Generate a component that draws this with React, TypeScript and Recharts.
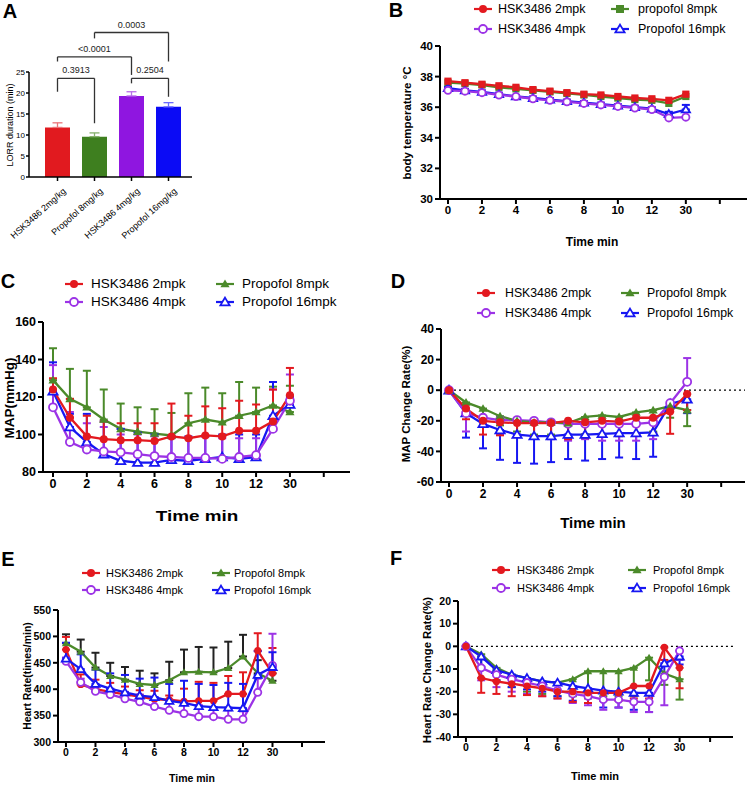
import React from 'react'
import { ComposedChart, Line, Bar, XAxis, YAxis, ErrorBar, ReferenceLine } from 'recharts'

const FONT = '"Liberation Sans", Arial, Helvetica, sans-serif'

const RED = '#e3191f'
const GREEN = '#4b8a2a'
const PURPLE = '#9c33e6'
const BLUE = '#1717f2'

// panel A: LORR duration
const groups = ['HSK3486 2mg/kg', 'Propofol 8mg/kg', 'HSK3486 4mg/kg', 'Propofol 16mg/kg']
const lorr = [11.8, 9.6, 19.3, 16.7]
const lorrTip = [12.9, 10.5, 20.3, 17.7]
const barColors = ['#e11a1f', '#3e7f1f', '#8f16e0', '#0b0bf5']
const barErrColors = ['#ea7479', '#86b06c', '#b86de9', '#6b6bff']

const bracketFrom = [0, 2, 0, 1]
const bracketTo = [1, 3, 2, 3]
const bracketY = [23.5, 23.5, 28.6, 34.4]
const legFromEnd = [20.3, 22.3, 27.5, 33.0]
const legToEnd = [12.8, 19.1, 24.3, 27.5]
const pValues = ['0.3913', '0.2504', '<0.0001', '0.0003']

// time slots: minutes 0..13 then 30 min
const slots = [0, 1, 2, 3, 4, 5, 6, 7, 8, 9, 10, 11, 12, 13, 14]
const tickSlots = [0, 2, 4, 6, 8, 10, 12, 14, 16]
const tickNames = ['0', '2', '4', '6', '8', '10', '12', '30', '']

// panel B: body temperature
const tempHsk2 = [37.7, 37.6, 37.5, 37.4, 37.3, 37.15, 37.05, 36.95, 36.85, 36.8, 36.7, 36.6, 36.55, 36.45, 36.85]
const tempPro8 = [37.6, 37.55, 37.45, 37.3, 37.2, 37.1, 37.0, 36.9, 36.8, 36.7, 36.6, 36.5, 36.45, 36.25, 36.7]
const tempHsk4 = [37.1, 37.05, 36.95, 36.8, 36.7, 36.55, 36.45, 36.35, 36.25, 36.15, 36.05, 35.95, 35.85, 35.3, 35.35]
const tempPro16 = [37.25, 37.1, 37.0, 36.85, 36.7, 36.6, 36.5, 36.4, 36.3, 36.2, 36.1, 36.0, 35.9, 35.55, 35.85]
const tempPro16Tip = [37.35, 37.2, 37.1, 36.95, 36.8, 36.7, 36.6, 36.5, 36.4, 36.3, 36.2, 36.1, 36.0, 35.7, 36.15]

// panel C: MAP
const mapHsk2 = [124, 109, 99, 97.5, 97, 97, 96.5, 99, 98, 99.5, 99, 102, 102, 107, 121]
const mapHsk2Tip = [130, 119, 110, 107, 106, 106, 106, 116.5, 110, 115, 114, 118, 116, 124, 135.5]
const mapPro8 = [129, 119, 114.5, 108, 103, 101.5, 100.5, 99.5, 106, 108, 106.5, 110, 112, 115.5, 112]
const mapPro8Tip = [146, 135, 134, 124, 116.5, 114.5, 113.5, 111.5, 122, 125, 122, 128, 125, 125.5, 126]
const mapHsk4 = [114.5, 96, 92, 91, 90.5, 89.5, 88.5, 88, 87.5, 87.5, 87, 88, 89, 103, 118]
const mapHsk4Tip = [137, 112, 106, 104, 100, 100, 99, 98, 98, 99, 98, 98, 98, 124, 132]
const mapPro16 = [123, 104, 96, 89.5, 86, 85, 85, 86.5, 86, 87, 88, 87, 88, 110, 116]
const mapPro16Tip = [138.5, 111, 111, 107, 103, 101, 100, 99, 99, 99, 100, 100, 100, 128, 120]

// panel D: MAP change rate
const mapcHsk2 = [0, -12, -20, -21, -21.5, -21.5, -21.5, -20, -21, -20, -20.5, -18, -18, -14, -2.5]
const mapcHsk2Tip = [0, -19, -29, -29.5, -30, -30, -31, -32, -31, -30, -30, -29, -28, -28.5, -13]
const mapcPro8 = [0, -8, -12, -17, -20, -21, -21, -21.5, -17.5, -16.5, -17.5, -14.5, -13, -10.5, -13]
const mapcPro8Tip = [0, -14, -18, -23, -27, -29, -29, -31, -29, -29, -30, -29, -27, -18, -23.5]
const mapcHsk4 = [0, -15, -18, -19.5, -19.5, -20, -21, -22, -22, -22, -22, -22, -21, -8.5, 5.5]
const mapcHsk4Tip = [0, -27, -22, -29, -30, -31, -32, -33, -32, -33, -33, -33, -32, -12, 21]
const mapcPro16 = [0, -15, -22, -26, -29, -30, -30, -29, -29, -28.5, -28, -28, -27.5, -9, -6]
const mapcPro16Tip = [0, -31, -38, -45.5, -47.5, -48, -47, -45, -46, -45, -44, -45, -43.5, -12, -15]

// panel E: heart rate
const hrHsk2 = [475, 409, 400, 395, 390, 386, 381, 380, 377, 378, 378, 391, 391, 473, 430]
const hrHsk2Tip = [499, 428, 418, 412, 405, 398, 397, 388, 401, 414, 412, 425, 432, 506, 478]
const hrPro8 = [487, 471, 441, 425, 418, 410, 408, 417, 432, 433, 432, 440, 462, 430, 416]
const hrPro8Tip = [504, 494, 469, 450, 442, 435, 430, 452, 475, 480, 479, 490, 503, 455, 430]
const hrHsk4 = [453, 413, 396, 390, 382, 376, 367, 360, 354, 348, 348, 343, 343, 394, 445]
const hrHsk4Tip = [460, 420, 405, 400, 395, 390, 385, 380, 375, 370, 365, 360, 358, 420, 505]
const hrPro16 = [458, 438, 410, 401, 394, 388, 385, 378, 374, 368, 366, 365, 364, 427, 442]
const hrPro16Tip = [488, 466, 437, 430, 427, 420, 422, 410, 416, 410, 408, 412, 410, 472, 470]

// panel F: heart rate change rate
const hrcHsk2 = [0, -14, -15.5, -16.5, -17.5, -18.5, -20, -20, -20.5, -20.5, -20.5, -17.5, -17.5, -0.5, -9.5]
const hrcHsk2Tip = [0, -20.5, -21, -22, -21.5, -22, -23, -24.5, -25, -24, -24, -23, -23, -6, -18.5]
const hrcPro8 = [0, -3.5, -9.5, -12.5, -14, -15.5, -16, -14.5, -11, -11, -11, -9.5, -5, -12, -14.5]
const hrcPro8Tip = [0, -9, -15, -18, -20, -21, -22, -22, -23, -22, -22, -22, -15, -17, -23.5]
const hrcHsk4 = [0, -9.5, -12.5, -14.5, -16, -17.5, -19.5, -21, -22, -23.5, -23.5, -24.5, -24.5, -13.5, -2]
const hrcHsk4Tip = [0, -15, -18, -20, -21, -22, -23, -25, -26, -28, -27, -29, -29, -26, -6]
const hrcPro16 = [0, -4.5, -10.5, -12.5, -14, -15.5, -16, -17.5, -18.5, -19.5, -20, -20.5, -20.5, -7.5, -4.5]
const hrcPro16Tip = [0, -9, -15, -18, -19, -20, -22, -24, -25, -27, -27, -28, -29, -13, -8]

type Shape = 'circle' | 'ocircle' | 'tri' | 'otri' | 'square'

function errOf(m: number, tip: number) {
  return tip >= m ? [0, tip - m] : [m - tip, 0]
}

type Series = { key: string; mean: number[]; tip?: number[]; color: string; shape: Shape; errColor?: string }

function buildRows(series: Series[]) {
  return slots.map((x, i) => {
    const row: any = { x }
    series.forEach((s) => {
      row[s.key] = s.mean[i]
      if (s.tip) row[s.key + 'Err'] = errOf(s.mean[i], s.tip[i])
    })
    return row
  })
}

function Marker({ shape, cx, cy, color, r }: { shape: Shape; cx: number; cy: number; color: string; r: number }) {
  if (cx == null || cy == null || isNaN(cx) || isNaN(cy)) return null
  if (shape === 'circle') return <circle cx={cx} cy={cy} r={r} fill={color} />
  if (shape === 'ocircle') return <circle cx={cx} cy={cy} r={r} fill="#fff" stroke={color} strokeWidth={1.8} />
  if (shape === 'square') return <rect x={cx - r} y={cy - r} width={2 * r} height={2 * r} fill={color} />
  const h = r * 1.1
  const d = `M${cx},${cy - h} L${cx + r * 1.15},${cy + h * 0.75} L${cx - r * 1.15},${cy + h * 0.75} Z`
  if (shape === 'tri') return <path d={d} fill={color} />
  return <path d={d} fill="#fff" stroke={color} strokeWidth={1.8} strokeLinejoin="miter" />
}

function Txt({ x, y, size, bold, rot, sx, children }: any) {
  return (
    <div
      style={{
        position: 'absolute',
        left: x,
        top: y,
        transform: `translate(-50%, -50%) rotate(${rot || 0}deg) scaleX(${sx || 1})`,
        fontFamily: FONT,
        fontSize: size,
        fontWeight: bold ? 700 : 400,
        whiteSpace: 'nowrap',
        color: '#000',
        lineHeight: 1,
      }}
    >
      {children}
    </div>
  )
}

type LegendItem = { text: string; color: string; shape: Shape }

function Legend4({ items, rows, iconX, textX, size }: { items: LegendItem[]; rows: number[]; iconX: number[]; textX: number[]; size: number }) {
  return (
    <>
      {items.map((it, i) => {
        const col = i < 2 ? 0 : 1
        const row = i % 2
        return (
          <div key={it.text}>
            <svg style={{ position: 'absolute', left: iconX[col] - 10, top: rows[row] - 6 }} width={20} height={12}>
              <line x1={1} y1={6} x2={19} y2={6} stroke={it.color} strokeWidth={2.2} />
              <Marker shape={it.shape} cx={10} cy={6} color={it.color} r={4} />
            </svg>
            <div
              style={{
                position: 'absolute',
                left: textX[col],
                top: rows[row],
                transform: 'translateY(-50%)',
                fontFamily: FONT,
                fontSize: size,
                whiteSpace: 'nowrap',
                lineHeight: 1,
              }}
            >
              {it.text}
            </div>
          </div>
        )
      })}
    </>
  )
}

const YW = 50
const XH = 30

function LinePanel({ rect, xDomain, yDomain, yTicks, series, zero, tickSize, markR }: any) {
  const { l, t, r, b } = rect
  const rows = buildRows(series)
  const tickStyle = { fill: '#000', fontSize: tickSize, fontWeight: 700, fontFamily: FONT }
  return (
    <div style={{ position: 'absolute', left: l - YW, top: t - 10 }}>
      <ComposedChart width={r - l + YW + 10} height={b - t + 10 + XH} data={rows} margin={{ top: 10, right: 10, left: 0, bottom: 0 }}>
        <XAxis
          dataKey="x"
          type="number"
          domain={xDomain}
          allowDataOverflow
          ticks={tickSlots}
          interval={0}
          tickFormatter={(v: number) => tickNames[tickSlots.indexOf(v)]}
          axisLine={{ stroke: '#000', strokeWidth: 2 }}
          tickLine={{ stroke: '#000', strokeWidth: 2 }}
          tickSize={5}
          tick={tickStyle}
          height={XH}
        />
        <YAxis
          type="number"
          domain={yDomain}
          allowDataOverflow
          ticks={yTicks}
          interval={0}
          axisLine={{ stroke: '#000', strokeWidth: 2 }}
          tickLine={{ stroke: '#000', strokeWidth: 2 }}
          tickSize={5}
          tick={tickStyle}
          width={YW}
        />
        {zero && (
          <ReferenceLine
            segment={[{ x: 0, y: 0 }, { x: xDomain[1], y: 0 }]}
            stroke="#000"
            strokeWidth={1.2}
            strokeDasharray="2 3"
          />
        )}
        {series.map((s: Series) => (
          <Line
            key={s.key}
            dataKey={s.key}
            type="linear"
            stroke={s.color}
            strokeWidth={2.3}
            isAnimationActive={false}
            activeDot={false}
            dot={(p: any) => <Marker key={`${s.key}-${p.index}`} shape={s.shape} cx={p.cx} cy={p.cy} color={s.color} r={markR} />}
          >
            {s.tip && (
              <ErrorBar dataKey={s.key + 'Err'} direction="y" width={4} strokeWidth={2} stroke={s.errColor || s.color} isAnimationActive={false} />
            )}
          </Line>
        ))}
      </ComposedChart>
    </div>
  )
}

function SlantTick({ x, y, payload }: any) {
  const ax = x + 9
  const ay = y + 9
  return (
    <text x={ax} y={ay} transform={`rotate(-42, ${ax}, ${ay})`} textAnchor="end" fontSize={9} fontFamily={FONT} fill="#000">
      {payload.value}
    </text>
  )
}

function PanelA() {
  const rows = groups.map((name, i) => {
    const row: any = { name }
    row['v' + i] = lorr[i]
    row['e' + i] = errOf(lorr[i], lorrTip[i])
    return row
  })
  const tickStyle = { fill: '#000', fontSize: 8, fontFamily: FONT }
  const stroke = '#333'
  return (
    <div style={{ position: 'absolute', left: 0, top: 0 }}>
      <ComposedChart width={200} height={250} data={rows} margin={{ top: 72, right: 8, left: 0, bottom: 0 }}>
        <XAxis
          dataKey="name"
          type="category"
          padding={{ left: 10, right: 5 }}
          interval={0}
          height={73}
          tick={<SlantTick />}
          axisLine={{ stroke: '#000', strokeWidth: 1.5 }}
          tickLine={{ stroke: '#000', strokeWidth: 1.5 }}
          tickSize={4}
        />
        <YAxis
          type="number"
          domain={[0, 25]}
          ticks={[0, 5, 10, 15, 20, 25]}
          interval={0}
          width={29}
          axisLine={{ stroke: '#000', strokeWidth: 1.5 }}
          tickLine={{ stroke: '#000', strokeWidth: 1.5 }}
          tickSize={3}
          tickMargin={1}
          tick={tickStyle}
        />
        {groups.map((g, i) => (
          <Bar key={g} dataKey={'v' + i} stackId="a" fill={barColors[i]} barSize={25} isAnimationActive={false}>
            <ErrorBar dataKey={'e' + i} direction="y" width={5} strokeWidth={1.3} stroke={barErrColors[i]} isAnimationActive={false} />
          </Bar>
        ))}
        {pValues.map((p, i) => {
          const a = groups[bracketFrom[i]]
          const c = groups[bracketTo[i]]
          return (
            <React.Fragment key={p}>
              <ReferenceLine
                segment={[{ x: a, y: bracketY[i] }, { x: c, y: bracketY[i] }]}
                stroke={stroke}
                strokeWidth={1.3}
                ifOverflow="visible"
                label={{ value: p, position: 'top', offset: 5, fontSize: 9, fill: '#222', fontFamily: FONT }}
              />
              <ReferenceLine segment={[{ x: a, y: bracketY[i] }, { x: a, y: legFromEnd[i] }]} stroke={stroke} strokeWidth={1.3} ifOverflow="visible" />
              <ReferenceLine segment={[{ x: c, y: bracketY[i] }, { x: c, y: legToEnd[i] }]} stroke={stroke} strokeWidth={1.3} ifOverflow="visible" />
            </React.Fragment>
          )
        })}
      </ComposedChart>
    </div>
  )
}

const ticksStep = (a: number, b: number, s: number) => {
  const out: number[] = []
  for (let v = a; v <= b + 1e-9; v += s) out.push(v)
  return out
}

export default function App() {
  const legendB: LegendItem[] = [
    { text: 'HSK3486 2mpk', color: RED, shape: 'circle' },
    { text: 'HSK3486 4mpk', color: PURPLE, shape: 'ocircle' },
    { text: 'propofol 8mpk', color: GREEN, shape: 'square' },
    { text: 'Propofol 16mpk', color: BLUE, shape: 'otri' },
  ]
  const legendStd: LegendItem[] = [
    { text: 'HSK3486 2mpk', color: RED, shape: 'circle' },
    { text: 'HSK3486 4mpk', color: PURPLE, shape: 'ocircle' },
    { text: 'Propofol 8mpk', color: GREEN, shape: 'tri' },
    { text: 'Propofol 16mpk', color: BLUE, shape: 'otri' },
  ]

  const seriesB: Series[] = [
    { key: 'pro8', mean: tempPro8, color: GREEN, shape: 'square' },
    { key: 'pro16', mean: tempPro16, tip: tempPro16Tip, color: BLUE, shape: 'otri' },
    { key: 'hsk4', mean: tempHsk4, color: PURPLE, shape: 'ocircle' },
    { key: 'hsk2', mean: tempHsk2, color: RED, shape: 'square' },
  ]
  const seriesC: Series[] = [
    { key: 'pro8', mean: mapPro8, tip: mapPro8Tip, color: GREEN, shape: 'tri' },
    { key: 'pro16', mean: mapPro16, tip: mapPro16Tip, color: BLUE, shape: 'otri' },
    { key: 'hsk4', mean: mapHsk4, tip: mapHsk4Tip, color: PURPLE, shape: 'ocircle' },
    { key: 'hsk2', mean: mapHsk2, tip: mapHsk2Tip, color: RED, shape: 'circle' },
  ]
  const seriesD: Series[] = [
    { key: 'pro16', mean: mapcPro16, tip: mapcPro16Tip, color: BLUE, shape: 'otri' },
    { key: 'hsk4', mean: mapcHsk4, tip: mapcHsk4Tip, color: PURPLE, shape: 'ocircle' },
    { key: 'pro8', mean: mapcPro8, tip: mapcPro8Tip, color: GREEN, shape: 'tri' },
    { key: 'hsk2', mean: mapcHsk2, tip: mapcHsk2Tip, color: RED, shape: 'circle' },
  ]
  const seriesE: Series[] = [
    { key: 'pro8', mean: hrPro8, tip: hrPro8Tip, color: GREEN, shape: 'tri', errColor: '#222' },
    { key: 'hsk2', mean: hrHsk2, tip: hrHsk2Tip, color: RED, shape: 'circle' },
    { key: 'hsk4', mean: hrHsk4, tip: hrHsk4Tip, color: PURPLE, shape: 'ocircle' },
    { key: 'pro16', mean: hrPro16, tip: hrPro16Tip, color: BLUE, shape: 'otri' },
  ]
  const seriesF: Series[] = [
    { key: 'pro8', mean: hrcPro8, tip: hrcPro8Tip, color: GREEN, shape: 'tri' },
    { key: 'pro16', mean: hrcPro16, tip: hrcPro16Tip, color: BLUE, shape: 'otri' },
    { key: 'hsk4', mean: hrcHsk4, tip: hrcHsk4Tip, color: PURPLE, shape: 'ocircle' },
    { key: 'hsk2', mean: hrcHsk2, tip: hrcHsk2Tip, color: RED, shape: 'circle' },
  ]

  return (
    <div style={{ position: 'absolute', left: 0, top: 0, width: 750, height: 786, background: '#fff', overflow: 'hidden' }}>
      <PanelA />
      <LinePanel rect={{ l: 440, t: 46, r: 747, b: 199 }} xDomain={[-0.47, 17.6]} yDomain={[30, 40]} yTicks={ticksStep(30, 40, 2)} series={seriesB} tickSize={11.5} markR={3.6} />
      <LinePanel rect={{ l: 43, t: 322, r: 350, b: 472 }} xDomain={[-0.59, 17.55]} yDomain={[80, 160]} yTicks={ticksStep(80, 160, 20)} series={seriesC} tickSize={12.5} markR={4} />
      <LinePanel rect={{ l: 441, t: 329, r: 745, b: 482 }} xDomain={[-0.47, 17.4]} yDomain={[-60, 40]} yTicks={ticksStep(-60, 40, 20)} series={seriesD} zero tickSize={12} markR={4} />
      <LinePanel rect={{ l: 58, t: 610, r: 325, b: 742 }} xDomain={[-0.54, 17.56]} yDomain={[300, 550]} yTicks={ticksStep(300, 550, 50)} series={seriesE} tickSize={10.5} markR={3.6} />
      <LinePanel rect={{ l: 458, t: 601, r: 733, b: 737 }} xDomain={[-0.52, 17.5]} yDomain={[-40, 20]} yTicks={ticksStep(-40, 20, 10)} series={seriesF} zero tickSize={10.5} markR={3.6} />

      <Legend4 items={legendB} rows={[9, 29]} iconX={[483, 620]} textX={[498, 638]} size={12.5} />
      <Legend4 items={legendStd} rows={[284, 302]} iconX={[74, 225]} textX={[91, 242]} size={13.5} />
      <Legend4 items={legendStd} rows={[293, 313]} iconX={[486, 630]} textX={[505, 647]} size={12.3} />
      <Legend4 items={legendStd} rows={[573, 590]} iconX={[91, 221]} textX={[106, 234]} size={11} />
      <Legend4 items={legendStd} rows={[570, 588]} iconX={[501, 637]} textX={[517, 653]} size={11} />

      <Txt x={10} y={11} size={20} bold>A</Txt>
      <Txt x={396} y={10} size={20} bold>B</Txt>
      <Txt x={8} y={281} size={20} bold>C</Txt>
      <Txt x={398} y={281} size={20} bold>D</Txt>
      <Txt x={8} y={559} size={20} bold>E</Txt>
      <Txt x={396} y={558} size={20} bold>F</Txt>

      <Txt x={10} y={125} size={9} rot={-90}>LORR duration (min)</Txt>
      <Txt x={408} y={123} size={11.5} bold rot={-90}>body temperature °C</Txt>
      <Txt x={10} y={398} size={13.5} bold rot={-90}>MAP(mmHg)</Txt>
      <Txt x={407} y={404} size={11.5} bold rot={-90}>MAP Change Rate(%)</Txt>
      <Txt x={28} y={676} size={10.4} bold rot={-90}>Heart Rate(times/min)</Txt>
      <Txt x={428} y={670} size={11.3} bold rot={-90}>Heart Rate Change Rate(%)</Txt>

      <Txt x={592} y={242} size={12} bold>Time min</Txt>
      <Txt x={197} y={516} size={14} bold sx={1.35}>Time min</Txt>
      <Txt x={593} y={522} size={15} bold>Time min</Txt>
      <Txt x={192} y={778} size={10.5} bold>Time min</Txt>
      <Txt x={595} y={776} size={11} bold>Time min</Txt>
    </div>
  )
}
